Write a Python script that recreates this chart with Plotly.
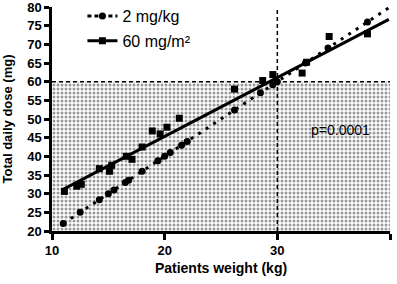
import plotly.graph_objects as go

# 2 mg/kg dosing
w_kg = [11, 12.5, 14.2, 15, 15.5, 16.5, 16.8, 18, 19.4, 20, 20.5, 21.5, 22, 26.2, 28.5, 29.6, 30, 32.5, 34.5, 38]
dose_kg = [22, 25, 28.4, 30, 31, 33, 33.6, 36, 38.8, 40, 41, 43, 44, 52.4, 57, 59.2, 60, 65, 69, 76]
# 60 mg/m2 dosing
w_m2 = [11.1, 12.2, 12.6, 14.2, 15.1, 15.3, 16.6, 17.1, 18, 18.9, 19.6, 20.2, 21.3, 26.2, 28.7, 29.6, 32.2, 32.6, 34.6, 38]
dose_m2 = [30.6, 32, 32.5, 36.7, 36, 37.6, 40, 39.2, 42.5, 46.8, 46, 47.8, 50.2, 58, 60.3, 61.9, 62.3, 65.2, 72.1, 72.8]
# regression lines (end points)
fit_kg_x = [11, 40]
fit_kg_y = [22, 80]
fit_m2_x = [10.95, 39.9]
fit_m2_y = [31.1, 76.7]

FONT = "Liberation Sans, Arial, sans-serif"

fig = go.Figure()
# shaded region
fig.add_trace(go.Scatter(x=[10, 40, 40, 10, 10], y=[20, 20, 60, 60, 20], mode="lines",
                         line=dict(width=0), fill="toself", fillcolor="rgba(255,255,255,0)",
                         fillpattern=dict(shape=".", fgcolor="#333", bgcolor="white", size=4, solidity=0.45),
                         showlegend=False, hoverinfo="skip"))
# reference dashed lines
fig.add_trace(go.Scatter(x=[10, 40], y=[60, 60], mode="lines", line=dict(color="black", width=1.5, dash="4px,3px"),
                         showlegend=False, hoverinfo="skip"))
fig.add_trace(go.Scatter(x=[30, 30], y=[20, 80], mode="lines", line=dict(color="black", width=1.5, dash="4px,3px"),
                         showlegend=False, hoverinfo="skip", cliponaxis=False))
# fits
fig.add_trace(go.Scatter(x=fit_kg_x, y=fit_kg_y, mode="lines", line=dict(color="black", width=3, dash="3px,6px"),
                         showlegend=False, cliponaxis=False))
fig.add_trace(go.Scatter(x=fit_m2_x, y=fit_m2_y, mode="lines", line=dict(color="black", width=3),
                         showlegend=False))
# data
fig.add_trace(go.Scatter(x=w_kg, y=dose_kg, mode="markers", marker=dict(symbol="circle", size=7, color="black"),
                         showlegend=False))
fig.add_trace(go.Scatter(x=w_m2, y=dose_m2, mode="markers", marker=dict(symbol="square", size=7, color="black"),
                         showlegend=False))
# legend entries
fig.add_trace(go.Scatter(x=[None], y=[None], mode="lines+markers", name="2 mg/kg", legendgroup="a",
                         line=dict(color="black", width=3, dash="4px,3px"), marker=dict(symbol="circle", size=7, color="black")))
fig.add_trace(go.Scatter(x=[None], y=[None], mode="lines+markers", name="60 mg/m²", legendgroup="b",
                         line=dict(color="black", width=3), marker=dict(symbol="square", size=7, color="black")))

fig.add_annotation(x=35.6, y=47, text="p=0.0001", showarrow=False, font=dict(size=14, color="black", family=FONT))

fig.update_layout(
    width=397, height=284, margin=dict(l=52, r=7, t=7, b=53, autoexpand=False),
    plot_bgcolor="white", paper_bgcolor="white",
    font=dict(family=FONT, color="black"),
    legend=dict(x=0.09, y=1.035, xanchor="left", yanchor="top", bgcolor="rgba(0,0,0,0)",
                font=dict(size=16, family=FONT), itemwidth=30, tracegroupgap=1, traceorder="grouped"),
)
fig.update_xaxes(range=[10, 40], tickvals=[10, 20, 30, 40], showgrid=False, zeroline=False, automargin=False,
                 showline=True, linecolor="black", linewidth=2.5, ticks="outside", ticklen=6, tickwidth=2.5,
                 tickcolor="black", tickfont=dict(size=13, family=FONT, weight="bold"),
                 title=dict(text="<b>Patients weight (kg)</b>", font=dict(size=14, family=FONT), standoff=6))
fig.update_yaxes(range=[20, 80], tickvals=list(range(20, 81, 5)), showgrid=False, zeroline=False, automargin=False,
                 showline=True, linecolor="black", linewidth=2.5, ticks="outside", ticklen=5, tickwidth=2.5,
                 tickcolor="black", tickfont=dict(size=13, family=FONT, weight="bold"), ticklabeloverflow="allow",
                 title=dict(text="<b>Total daily dose (mg)</b>", font=dict(size=13, family=FONT), standoff=12))
fig.write_html("out.html", post_script="document.body.style.margin='0px';",
               config={"displayModeBar": False})
